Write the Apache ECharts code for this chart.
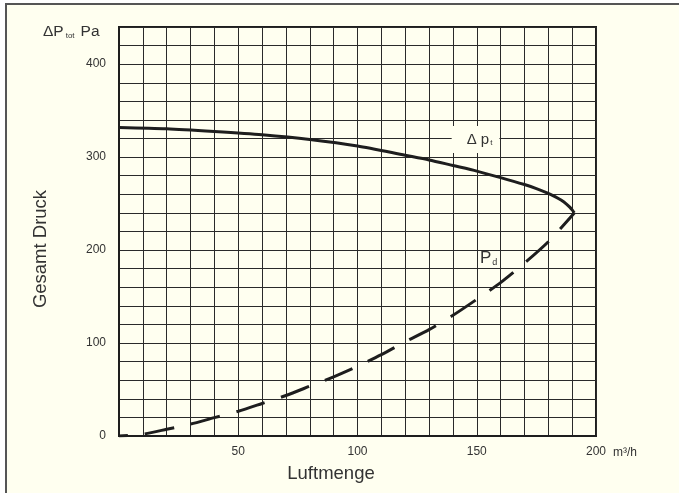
<!DOCTYPE html>
<html>
<head>
<meta charset="utf-8">
<script src="https://cdn.jsdelivr.net/npm/echarts@6/dist/echarts.min.js"></script>
<style>
html,body{margin:0;padding:0;background:#ffffff;}
#c{width:679px;height:493px;}
</style>
</head>
<body>
<div id="c"></div>
<script>
// Data
const dpT = [[0,332],[20,330.5],[40,327.5],[60,324],[80,319],[100,312],[120,302],[130,297],[140,291],[150,285],[160,278],[170,270.5],[175,266.2],[180,261],[183,257.3],[185.5,253.5],[187.5,249.8],[189,246.2],[190,243.2],[190.9,240]];
const pD = [[0,0],[10,2],[20,7.2],[30,12.8],[40,19.8],[50,26.6],[60,35],[70,43.6],[80,53.6],[90,63.7],[100,75],[110,87.5],[120,101.4],[130,114.4],[140,129.8],[150,147],[160,165],[170,186],[180,209],[190.9,240]];
const xTickLabels = [50,100,150,200];
const yTickLabels = [0,100,200,300,400];
const labelDpT = [149.5, 319];
const labelPd = [155, 191];

const FONT = '"Liberation Sans", Arial, sans-serif';
const INK = '#1e1e1e';
const BG = '#FFFFF0';

const chart = echarts.init(document.getElementById('c'), null, {renderer:'canvas'});
chart.setOption({
  backgroundColor: 'transparent',
  animation: false,
  textStyle: {fontFamily: FONT},
  title: {
    text: '{a|ΔP}{b|tot}{c|Pa}',
    left: 43, top: 24, padding: 0,
    textStyle: {
      fontWeight: 'normal',
      rich: {
        a: {fontSize: 15.5, fontFamily: FONT, fontWeight:'normal', color: '#333', verticalAlign: 'bottom'},
        b: {fontSize: 8, fontFamily: FONT, fontWeight:'normal', color: '#333', verticalAlign: 'bottom', padding:[0,6,0,2]},
        c: {fontSize: 15.5, fontFamily: FONT, fontWeight:'normal', color: '#333', verticalAlign: 'bottom'}
      }
    }
  },
  graphic: [
    {type:'rect', z:-100, shape:{x:6, y:4, width:720, height:540}, style:{fill:BG, stroke:'#555', lineWidth:2}, silent:true},
    {type:'text', x:41, y:249, rotation:Math.PI/2, style:{text:'Gesamt Druck', font:'18.5px '+FONT, fill:'#333', align:'center', verticalAlign:'middle'}},
    {type:'text', x:331, y:474, style:{text:'Luftmenge', font:'18.5px '+FONT, fill:'#333', align:'center', verticalAlign:'middle'}}
  ],
  grid: {left:119, right:83, top:27, bottom:57, show:true, borderColor:INK, borderWidth:2, backgroundColor:'transparent'},
  xAxis: {
    type:'value', min:0, max:200, interval:10,
    name:'m³/h', nameLocation:'end', nameGap:17,
    nameTextStyle:{fontSize:12, color:'#333', align:'left', verticalAlign:'top', padding:[11,0,0,0]},
    axisLine:{show:true, lineStyle:{color:INK, width:2}},
    axisTick:{show:false},
    splitLine:{show:true, lineStyle:{color:'#2a2a2a', width:1}},
    axisLabel:{
      margin:10, fontSize:12, color:'#333', showMinLabel:true, showMaxLabel:true, hideOverlap:false,
      formatter: v => xTickLabels.indexOf(v) >= 0 ? String(v) : ''
    }
  },
  yAxis: {
    type:'value', min:0, max:440, interval:20,
    axisLine:{show:true, lineStyle:{color:INK, width:2}},
    axisTick:{show:false},
    splitLine:{show:true, lineStyle:{color:'#2a2a2a', width:1}},
    axisLabel:{
      margin:13, fontSize:12, color:'#333', showMinLabel:true, hideOverlap:false,
      formatter: v => yTickLabels.indexOf(v) >= 0 ? String(v) : ''
    }
  },
  series: [
    {
      type:'line', data:dpT, showSymbol:false, smooth:0.25,
      lineStyle:{color:INK, width:3}, z:5,
      markPoint:{
        symbol:'rect', symbolSize:[1,1], itemStyle:{color:'rgba(0,0,0,0)'},
        data:[{coord:labelDpT}],
        label:{
          show:true, position:'inside', formatter:'{a|Δ p}{b|t}',
          backgroundColor:BG, padding:[6,7,6,15],
          rich:{
            a:{fontSize:15, fontFamily:FONT, color:'#333'},
            b:{fontSize:8, fontFamily:FONT, color:'#333', verticalAlign:'bottom', padding:[0,0,0,1]}
          }
        }
      }
    },
    {
      type:'line', data:pD, showSymbol:false, smooth:0.25,
      lineStyle:{color:INK, width:3, type:[30,17], dashOffset:21}, z:5,
      markPoint:{
        symbol:'rect', symbolSize:[1,1], itemStyle:{color:'rgba(0,0,0,0)'},
        data:[{coord:labelPd}],
        label:{
          show:true, position:'inside', formatter:'{a|P}{b|d}',
          rich:{
            a:{fontSize:17, fontFamily:FONT, color:'#333'},
            b:{fontSize:9, fontFamily:FONT, color:'#333', verticalAlign:'bottom', padding:[0,0,0,1]}
          }
        }
      }
    }
  ]
});
</script>
</body>
</html>
